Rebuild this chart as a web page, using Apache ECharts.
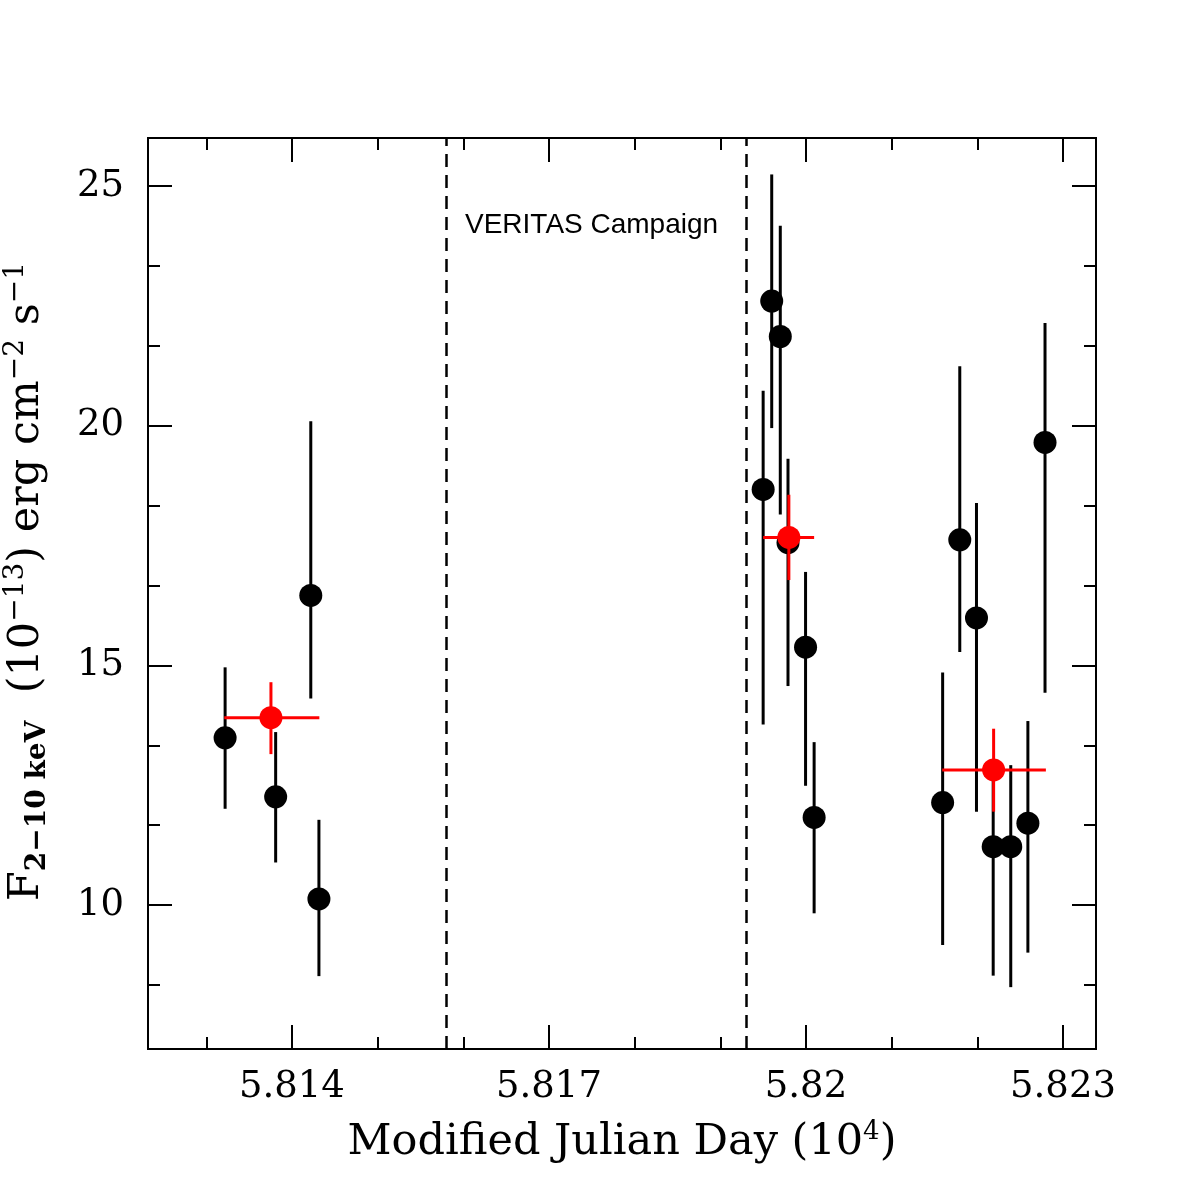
<!DOCTYPE html>
<html><head><meta charset="utf-8">
<script src="https://cdn.jsdelivr.net/npm/echarts@6/dist/echarts.min.js"></script>
<style>html,body{margin:0;padding:0;background:#fff}#c{width:1196px;height:1196px}</style>
</head><body><div id="c"></div>
<script>
// ---- data (MJD, flux in 1e-13 erg cm^-2 s^-1) ----
const obsMJD  = [58132.2, 58138.1, 58142.2, 58143.15, 58195.0, 58196.0, 58197.0, 58197.9, 58199.95, 58200.95, 58215.95, 58217.95, 58219.9, 58221.85, 58223.9, 58225.9, 58227.9];
const obsFlux = [13.49, 12.26, 16.46, 10.13, 18.67, 22.60, 21.86, 17.56, 15.38, 11.83, 12.14, 17.62, 15.99, 11.22, 11.22, 11.71, 19.65];
const obsLow  = [12.01, 10.89, 14.31, 8.52, 13.77, 19.95, 18.15, 14.57, 12.49, 9.83, 9.17, 15.28, 11.95, 8.53, 8.29, 9.01, 14.43];
const obsHigh = [14.96, 13.61, 20.09, 11.78, 20.73, 25.24, 24.17, 19.31, 16.95, 13.40, 14.85, 21.24, 18.39, 12.90, 12.92, 13.84, 22.14];

const avgMJD   = [58137.55, 58198.0, 58221.9];
const avgFlux  = [13.91, 17.67, 12.82];
const avgMJDLo = [58132.1, 58195.0, 58215.9];
const avgMJDHi = [58143.2, 58200.95, 58228.0];
const avgLow   = [13.15, 16.78, 11.95];
const avgHigh  = [14.65, 18.56, 13.68];

const campaignBounds = [58158, 58193];
const campaignLabel = 'VERITAS Campaign';
const campaignLabelPos = [58160.2, 24.19];

const xMajorTicks = [58140, 58170, 58200, 58230];
const xMinorTicks = [58130, 58150, 58160, 58180, 58190, 58210, 58220];
const yMajorTicks = [10, 15, 20, 25];
const yMinorTicks = [8.333, 11.667, 13.333, 16.667, 18.333, 21.667, 23.333];
const xRange = [58123.2, 58233.85];
const yRange = [7, 26];

// ---- chart ----
const SERIF = '"DejaVu Serif", "Liberation Serif", serif';
const chart = echarts.init(document.getElementById('c'), null, {renderer: 'canvas'});

function makeAxis(kind, pos, ticks, len, labels) {
  const isX = kind === 'x';
  return {
    type: 'value',
    position: pos,
    min: isX ? xRange[0] : yRange[0],
    max: isX ? xRange[1] : yRange[1],
    axisLine: {show: true, onZero: false, lineStyle: {color: '#000', width: 2}},
    axisTick: {show: true, inside: true, length: len, customValues: ticks, lineStyle: {color: '#000', width: 2}},
    axisLabel: labels ? {
      show: true, customValues: labels, color: '#000', fontFamily: SERIF, fontSize: 37,
      margin: isX ? 20 : 24,
      formatter: isX ? (v => String(parseFloat((v / 10000).toFixed(4)))) : (v => String(v))
    } : {show: false},
    splitLine: {show: false}
  };
}

const xAxes = [
  makeAxis('x', 'bottom', xMajorTicks, 24, xMajorTicks),
  makeAxis('x', 'bottom', xMinorTicks, 12, null),
  makeAxis('x', 'top', xMajorTicks, 24, null),
  makeAxis('x', 'top', xMinorTicks, 12, null)
];
xAxes[0].name = '{m|Modified Julian Day (10}{sup|4}{m|)}';
xAxes[0].nameLocation = 'middle';
xAxes[0].nameGap = 70;
xAxes[0].nameTextStyle = {
  color: '#000', fontFamily: SERIF,
  rich: {
    m: {fontFamily: SERIF, fontSize: 43, lineHeight: 48, color: '#000'},
    sup: {fontFamily: SERIF, fontSize: 26, lineHeight: 26, verticalAlign: 'top', color: '#000'}
  }
};

const yAxes = [
  makeAxis('y', 'left', yMajorTicks, 24, yMajorTicks),
  makeAxis('y', 'left', yMinorTicks, 12, null),
  makeAxis('y', 'right', yMajorTicks, 24, null),
  makeAxis('y', 'right', yMinorTicks, 12, null)
];
yAxes[0].name = '{pad| }{m|F}{sub|2\u221210 keV}{m|  (10}{sup|\u221213}{m|) erg cm}{sup|\u22122}{m| s}{sup|\u22121}';
yAxes[0].nameLocation = 'middle';
yAxes[0].nameRotate = 90;
yAxes[0].nameGap = 96;
yAxes[0].nameTextStyle = {
  color: '#000', fontFamily: SERIF,
  rich: {
    pad: {fontSize: 10, width: 24},
    m: {fontFamily: SERIF, fontSize: 43, lineHeight: 50, color: '#000'},
    sup: {fontFamily: SERIF, fontSize: 28, lineHeight: 28, verticalAlign: 'top', color: '#000'},
    sub: {fontFamily: SERIF, fontSize: 28, lineHeight: 28, verticalAlign: 'bottom', color: '#000', fontWeight: 'bold'}
  }
};

const obsBars = obsMJD.map((x, i) => [x, obsLow[i], obsHigh[i]]);
const obsPts = obsMJD.map((x, i) => [x, obsFlux[i]]);
const avgBars = avgMJD.map((x, i) => [x, avgFlux[i], avgMJDLo[i], avgMJDHi[i], avgLow[i], avgHigh[i]]);
const avgPts = avgMJD.map((x, i) => [x, avgFlux[i]]);

chart.setOption({
  animation: false,
  backgroundColor: '#fff',
  grid: {left: 148, right: 100, top: 138, bottom: 147, containLabel: false, outerBoundsMode: 'none'},
  xAxis: xAxes,
  yAxis: yAxes,
  series: [
    {
      type: 'custom', name: 'obsErr', data: obsBars, z: 2, silent: true,
      encode: {x: 0, y: [1, 2]},
      renderItem: (params, api) => {
        const a = api.coord([api.value(0), api.value(1)]);
        const b = api.coord([api.value(0), api.value(2)]);
        return {type: 'line', shape: {x1: a[0], y1: a[1], x2: b[0], y2: b[1]},
                style: {stroke: '#000', lineWidth: 3}};
      }
    },
    {
      type: 'scatter', name: 'obs', data: obsPts, z: 3, symbol: 'circle', symbolSize: 23,
      itemStyle: {color: '#000', opacity: 1}, silent: true,
      markLine: {
        symbol: 'none', silent: true, animation: false,
        lineStyle: {color: '#000', width: 2.5, type: [13, 8], opacity: 1},
        label: {show: false},
        data: campaignBounds.map(v => ({xAxis: v}))
      }
    },
    {
      type: 'custom', name: 'avgErr', data: avgBars, z: 4, silent: true,
      encode: {x: [0, 2, 3], y: [1, 4, 5]},
      renderItem: (params, api) => {
        const x = api.value(0), y = api.value(1);
        const h1 = api.coord([api.value(2), y]);
        const h2 = api.coord([api.value(3), y]);
        const v1 = api.coord([x, api.value(4)]);
        const v2 = api.coord([x, api.value(5)]);
        const st = {stroke: '#ff0000', lineWidth: 3};
        return {type: 'group', children: [
          {type: 'line', shape: {x1: h1[0], y1: h1[1], x2: h2[0], y2: h2[1]}, style: st},
          {type: 'line', shape: {x1: v1[0], y1: v1[1], x2: v2[0], y2: v2[1]}, style: st}
        ]};
      }
    },
    {
      type: 'scatter', name: 'avg', data: avgPts, z: 5, symbol: 'circle', symbolSize: 23,
      itemStyle: {color: '#ff0000', opacity: 1}, silent: true
    },
    {
      type: 'scatter', name: 'label', data: [campaignLabelPos], z: 6, symbolSize: 0, silent: true,
      itemStyle: {opacity: 1},
      label: {show: true, position: 'right', distance: 0, formatter: campaignLabel, opacity: 1,
              fontFamily: '"Liberation Sans", Arial, sans-serif', fontSize: 28, color: '#000'}
    }
  ]
});
</script>
</body></html>
